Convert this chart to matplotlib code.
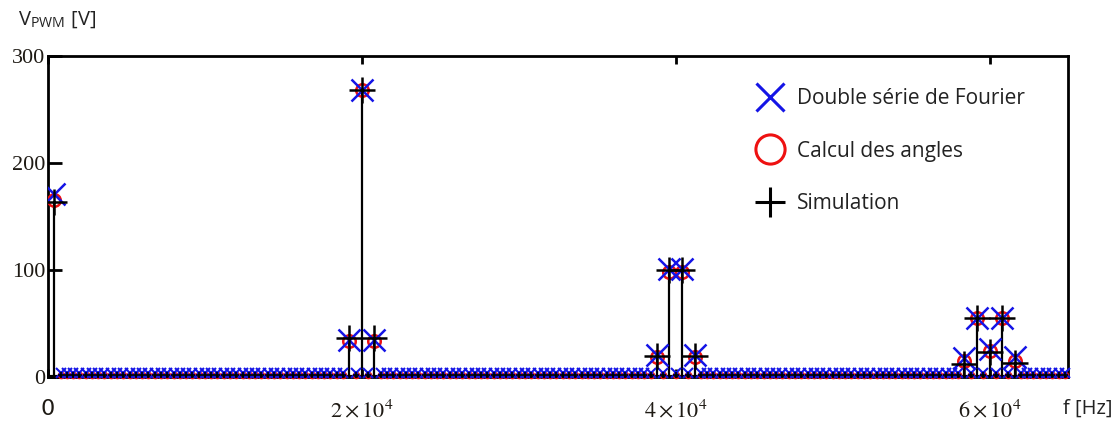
import numpy as np
import matplotlib
matplotlib.use("Agg")
import matplotlib.pyplot as plt
from matplotlib.lines import Line2D

plt.rcParams['mathtext.fontset'] = 'stix'

# ---------------- data ----------------
f0 = 400                                   # fundamental frequency [Hz]
orders = np.arange(1, 163)                 # harmonic orders shown
peak_orders   = [1, 48, 50, 52, 97, 99, 101, 103, 146, 148, 150, 152, 154]
fourier_peaks = [171, 35, 268, 35, 20.5, 100.5, 100.5, 20.5, 18, 55, 26, 55, 19]
angles_peaks  = [165, 33.5, 268, 33.5, 19, 98, 98, 19, 15, 55, 24, 55, 15]
sim_peaks     = [164, 36, 268, 36, 19.5, 100, 100, 19.5, 12, 55, 23, 55, 13]
fourier_floor = 4.0                        # near-zero harmonics level
angles_floor  = 2.0
sim_floor     = 1.5

yticks = [0, 100, 200, 300]
xticks = [0, 20000, 40000, 60000]
xticklabels = ['0', r'$2\times10^{4}$', r'$4\times10^{4}$', r'$6\times10^{4}$']

legend_labels = ['Double série de Fourier', 'Calcul des angles', 'Simulation']

blue = '#1414e6'
red = '#ee1111'

# ---------------- figure ----------------
fig = plt.figure(figsize=(11.18, 4.30), dpi=100)
ax = fig.add_axes([48/1118, 1-377/430, (1068-48)/1118, (377-56)/430])

freqs = orders * f0
fourier = np.full(len(orders), fourier_floor, dtype=float)
angles = np.full(len(orders), angles_floor, dtype=float)
sim = np.full(len(orders), sim_floor, dtype=float)
idx = [list(orders).index(o) for o in peak_orders]
fourier[idx] = fourier_peaks
angles[idx] = angles_peaks
sim[idx] = sim_peaks
is_peak = np.zeros(len(orders), bool)
is_peak[idx] = True

# stems of the simulation
ax.vlines(freqs, 0, sim, color='k', lw=1.6, zorder=2)
ax.axhline(0, color='k', lw=3, zorder=2)

# baseline (small) harmonics
ax.plot(freqs[~is_peak], angles[~is_peak], 'o', mfc='none', mec=red, ms=4.5, mew=1.0, clip_on=False, zorder=3)
ax.plot(freqs[~is_peak], fourier[~is_peak], 'x', color=blue, ms=7, mew=1.5, clip_on=False, zorder=4)
ax.plot(freqs[~is_peak], sim[~is_peak], '+', color='k', ms=5, mew=1.2, clip_on=False, zorder=5)

# significant harmonics
ax.plot(freqs[is_peak], angles[is_peak], 'o', mfc='none', mec=red, ms=9, mew=1.8, zorder=3)
ax.plot(freqs[is_peak], fourier[is_peak], 'x', color=blue, ms=16, mew=1.8, zorder=4)
ax.plot(freqs[is_peak], sim[is_peak], '+', color='k', ms=19, mew=1.8, zorder=5)

ax.set_xlim(0, 65000)
ax.set_ylim(0, 300)
ax.set_yticks(yticks)
ax.set_xticks(xticks)
ax.set_xticklabels(xticklabels)
for lab in ax.get_yticklabels():
    lab.set_fontfamily('Liberation Serif')
ax.tick_params(axis='y', direction='in', length=10, width=2, labelsize=16, pad=2,
               labelcolor='#1e1a14')
ax.tick_params(axis='x', direction='in', length=6, width=2, labelsize=16, pad=16,
               top=True, labelcolor='#1e1a14')
for s in ax.spines.values():
    s.set_linewidth(2)
    s.set_color('k')

# axis titles
fig.text(18/1118, 1-20/430, r'V$_{\mathregular{PWM}}$ [V]', fontsize=14.5, family='Open Sans',
         va='center', ha='left', color='#222222')
fig.text(1063/1118, 1-409/430, 'f [Hz]', fontsize=14.5, family='Open Sans',
         va='center', ha='left', color='#222222')

# legend
handles = [
    Line2D([], [], ls='none', marker='x', color=blue, ms=20, mew=2.2),
    Line2D([], [], ls='none', marker='o', mfc='none', mec=red, ms=21, mew=2.2),
    Line2D([], [], ls='none', marker='+', color='k', ms=22, mew=2.2),
]
leg = ax.legend(handles, legend_labels, loc='upper left',
                bbox_to_anchor=(743/1118, 1-78/430), bbox_transform=fig.transFigure,
                frameon=False, handlelength=1.6, handletextpad=0.5, labelspacing=1.5,
                prop={'family': 'Open Sans', 'size': 15}, borderpad=0)
for t in leg.get_texts():
    t.set_color('#222222')

fig.savefig('out.png', dpi=100)
